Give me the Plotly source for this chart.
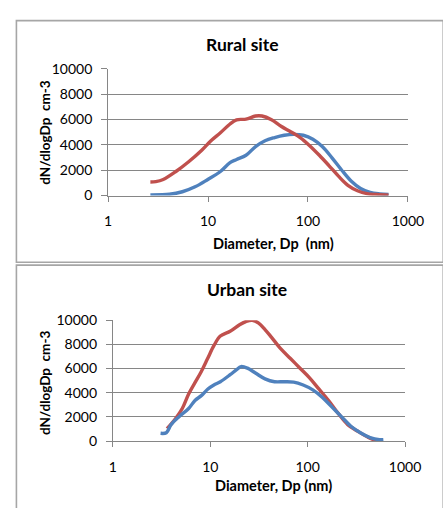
import plotly.graph_objects as go

# ---------------- data ----------------
rural_blue_x = [2.65, 4.12, 5.53, 7.42, 9.95, 13.3, 16.6, 19.3, 24, 29.9, 37.2, 46.4, 57.8, 72,
                89.7, 112, 139, 174, 216, 270, 336, 419, 522, 640]
rural_blue_y = [50, 100, 300, 690, 1270, 1900, 2600, 2850, 3180, 3870, 4330, 4580, 4760, 4830,
                4760, 4450, 3870, 2980, 2040, 1150, 560, 250, 130, 80]

rural_red_x = [2.65, 3.0, 3.56, 4.77, 6.4, 8.6, 10.7, 13.3, 16.6, 19.3, 24, 29.9, 34.7, 43.2,
               53.8, 67.1, 83.6, 104, 130, 162, 202, 251, 313, 389, 486, 640]
rural_red_y = [1070, 1100, 1270, 1900, 2670, 3560, 4330, 4960, 5650, 5980, 6030, 6280, 6280, 5980,
               5470, 5040, 4580, 3940, 3180, 2370, 1530, 810, 380, 150, 80, 30]

urban_red_x = [3.6, 4.43, 5.16, 6.0, 6.97, 8.1, 9.4, 10.9, 12.7, 16, 20, 23.2, 27, 31.4, 36.5,
               42.4, 53.1, 66.6, 83.5, 104.6, 131, 164, 206, 258, 324, 405, 508, 589]
urban_red_y = [1020, 1890, 2690, 3890, 4830, 5760, 6830, 7890, 8690, 9090, 9630, 9890, 10000, 9760,
               9230, 8600, 7620, 6830, 6030, 5230, 4290, 3360, 2290, 1360, 830, 370, 30, 30]

urban_blue_x = [3.09, 3.54, 3.96, 4.78, 6.0, 6.97, 8.1, 9.4, 10.9, 12.7, 16, 18.5, 20.7, 24.1,
                29.1, 36.5, 45.7, 57.3, 71.8, 90, 113, 141, 177, 222, 278, 348, 437, 547, 599]
urban_blue_y = [640, 690, 1360, 2020, 2690, 3360, 3760, 4290, 4640, 4910, 5490, 5890, 6160, 6030,
                5630, 5150, 4910, 4910, 4880, 4640, 4240, 3630, 2830, 2020, 1230, 690, 290, 110, 110]

x_tick_vals = [1, 10, 100, 1000]
x_tick_text = ["1", "10", "100", "1000"]
y_tick_vals = [0, 2000, 4000, 6000, 8000, 10000]
y_tick_text = ["0", "2000", "4000", "6000", "8000", "10000"]

titles = ["Rural site", "Urban site"]
y_title = "dN/dlogDp  cm-3"
x_titles = ["Diameter, Dp  (nm)", "Diameter, Dp (nm)"]

# ---------------- layout helpers ----------------
W, H = 443, 508
def px(x):
    return x / W
def py(y):
    return 1 - y / H

RED = "#C0504D"
BLUE = "#4F81BD"
GRID = "#868686"
FONT = "Lato"
LW = 3.4

fig = go.Figure()

fig.add_trace(go.Scatter(x=rural_blue_x, y=rural_blue_y, mode="lines", line=dict(color=BLUE, width=LW, shape="spline"),
                         xaxis="x", yaxis="y", showlegend=False))
fig.add_trace(go.Scatter(x=rural_red_x, y=rural_red_y, mode="lines", line=dict(color=RED, width=LW, shape="spline"),
                         xaxis="x", yaxis="y", showlegend=False))
fig.add_trace(go.Scatter(x=urban_red_x, y=urban_red_y, mode="lines", line=dict(color=RED, width=LW, shape="spline"),
                         xaxis="x2", yaxis="y2", showlegend=False))
fig.add_trace(go.Scatter(x=urban_blue_x, y=urban_blue_y, mode="lines", line=dict(color=BLUE, width=LW, shape="spline"),
                         xaxis="x2", yaxis="y2", showlegend=False))

def xaxis_cfg(dom, anchor):
    return dict(type="log", range=[0, 3], domain=dom, anchor=anchor,
                tickvals=x_tick_vals, ticktext=x_tick_text,
                showgrid=False, zeroline=False, showline=True, linecolor=GRID, linewidth=1,
                ticks="outside", ticklen=5, tickcolor=GRID, ticklabelstandoff=8,
                tickfont=dict(family=FONT, size=14, color="#000000"))

def yaxis_cfg(dom, anchor):
    return dict(range=[0, 10000], domain=dom, anchor=anchor, tickvals=y_tick_vals, ticktext=y_tick_text,
                showgrid=True, gridcolor=GRID, gridwidth=1, zeroline=False,
                showline=True, linecolor=GRID, linewidth=1,
                ticks="outside", ticklen=6, tickcolor=GRID, ticklabelstandoff=6,
                tickfont=dict(family=FONT, size=14, color="#000000"))

fig.update_layout(
    width=W, height=H, margin=dict(l=0, r=0, t=0, b=0),
    paper_bgcolor="white", plot_bgcolor="white",
    xaxis=xaxis_cfg([px(109), px(423)], "y"),
    yaxis=yaxis_cfg([py(193), py(62)], "x"),
    xaxis2=xaxis_cfg([px(114), px(420)], "y2"),
    yaxis2=yaxis_cfg([py(447), py(322)], "x2"),
)

def label(text, x, y, size, angle=0):
    return dict(text="<b>%s</b>" % text, x=px(x), y=py(y), xref="paper", yref="paper",
                xanchor="center", yanchor="middle", textangle=angle,
                showarrow=False, font=dict(family=FONT, size=size, color="#000"))

ann = [
    label(titles[0], 250, 37, 17.5),
    label(titles[1], 254, 290, 17.5),
    label(y_title, 43, 128, 13.5, -90),
    label(y_title, 43, 387, 13.5, -90),
    label(x_titles[0], 282, 243, 14.5),
    label(x_titles[1], 282, 493, 14.5),
]
fig.update_layout(annotations=ann)

# chart frames
FRAME = "#A6A6A6"
fig.add_shape(type="rect", xref="paper", yref="paper", x0=px(13), x1=px(460), y0=py(262), y1=py(12),
              line=dict(color=FRAME, width=1.6), layer="below")
fig.add_shape(type="rect", xref="paper", yref="paper", x0=px(13), x1=px(460), y0=py(530), y1=py(265),
              line=dict(color=FRAME, width=1.6), layer="below")

fig.write_html("out.html", config={"displayModeBar": False},
               post_script="document.body.style.margin='0px';document.body.style.overflow='hidden';")
